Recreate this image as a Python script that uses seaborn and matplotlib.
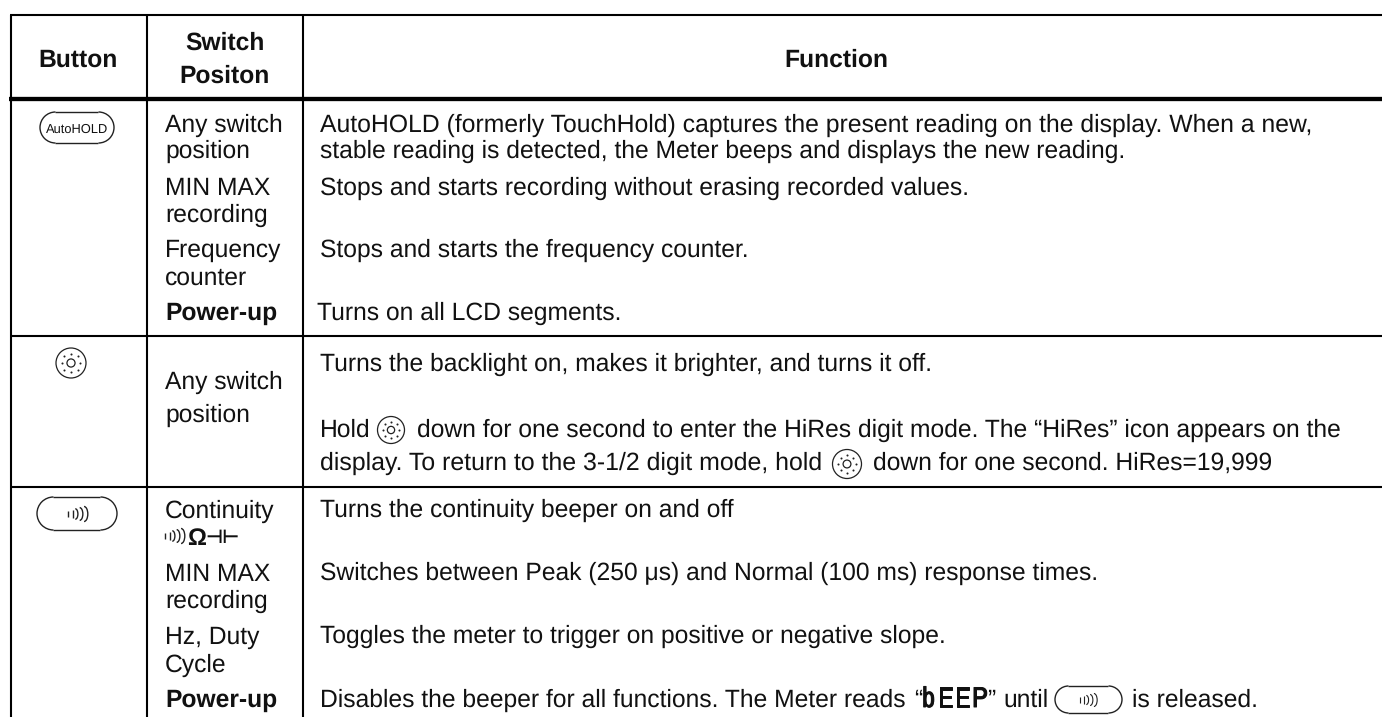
import matplotlib
matplotlib.use("Agg")
import matplotlib.pyplot as plt
import matplotlib.patheffects as pe
import seaborn as sns
from matplotlib.patches import Arc, Circle

sns.set_theme(style="white")
plt.rcParams["font.family"] = ["Liberation Sans", "DejaVu Sans"]
plt.rcParams["text.hinting"] = "none"

# table text
headers = ["Button", "Switch", "Positon", "Function"]
switch_labels = [
    "Any switch", "position", "MIN MAX", "recording", "Frequency", "counter",
    "Any switch", "position",
    "Continuity", "MIN MAX", "recording", "Hz, Duty", "Cycle",
]
switch_base = [132, 158, 195, 222, 257, 285, 389, 422, 518, 581, 608, 644, 672]
power_base = [320, 707]

func_labels = [
    "AutoHOLD (formerly TouchHold) captures the present reading on the display. When a new,",
    "stable reading is detected, the Meter beeps and displays the new reading.",
    "Stops and starts recording without erasing recorded values.",
    "Stops and starts the frequency counter.",
    "Turns the backlight on, makes it brighter, and turns it off.",
    "Turns the continuity beeper on and off",
    "Switches between Peak (250 \u03bcs) and Normal (100 ms) response times.",
    "Toggles the meter to trigger on positive or negative slope.",
]
func_base = [132, 158, 195, 257, 371, 517, 580, 643]
beep_letters = ["b", "E", "E", "P"]
beep_x = [922, 938, 955, 972]

# rules of the table
col_x = [11, 147, 303]
row_y = [99.3, 335.7, 486.7]
top_y = 14.5
right_x = 1382

BODY = 17.7
INK = "#111111"
fig, ax = plt.subplots(figsize=(13.82, 7.17), dpi=100)
ax.set_position([0, 0, 1, 1])
ax.set_xlim(0, 1382)
ax.set_ylim(717, 0)
ax.axis("off")


def txt(x, y, s, size=None, **kw):
    kw.setdefault("color", INK)
    return ax.text(x, y, s, fontsize=size or BODY, va="baseline", **kw)


def fit(x0, x1, y, s):
    # line of text that has to end at a given x
    t = txt(x0, y, s)
    width = t.get_window_extent(fig.canvas.get_renderer()).width
    t.set_fontsize(BODY * (x1 - x0) / width)
    return t


def sun(x, y, r):
    ax.add_patch(Circle((x, y), r, fill=False, ec="#222222", lw=0.9))
    ax.add_patch(Circle((x, y), r * 0.27, fill=False, ec="#222222", lw=0.9))
    ax.scatter([x + dx * r for dx in (-.62, -.44, 0, .44, .62, .44, 0, -.44)],
               [y + dy * r for dy in (0, -.44, -.62, -.44, 0, .44, .62, .44)],
               s=2.2, color="#222222", linewidths=0)


def pill(x0, y0, x1, y1):
    h = y1 - y0
    ax.hlines([y0, y1], x0 + h / 2, x1 - h / 2, color="#222222", lw=1.0)
    ax.add_patch(Arc((x0 + h / 2, y0 + h / 2), h, h, theta1=90, theta2=270, color="#222222", lw=1.0))
    ax.add_patch(Arc((x1 - h / 2, y0 + h / 2), h, h, theta1=-90, theta2=90, color="#222222", lw=1.0))


def beeper(x, y, h, lw=1.0):
    # two ticks and three growing arcs, x is the left end
    step = h * 0.33
    for i, frac in enumerate((0.4, 0.55)):
        ax.vlines(x + i * step, y - h * frac / 2, y + h * frac / 2, color="#222222", lw=lw)
    for i, frac in enumerate((0.7, 0.85, 1.0)):
        hh = h * frac
        ax.add_patch(Arc((x + (i + 2) * step - hh * 0.25, y), hh * 0.5, hh,
                         theta1=-90, theta2=90, color="#222222", lw=lw))


# body size taken from the second line, which ends at x=1126
probe = fit(320, 1126, func_base[1], func_labels[1])
BODY = probe.get_fontsize()

# grid, the rules run off the right edge
ax.hlines(top_y, col_x[0] - 1, right_x, color="black", lw=1.5)
ax.hlines(row_y[0], col_x[0] - 2, right_x, color="black", lw=3.1)
ax.hlines(row_y[1:], col_x[0], right_x, color="black", lw=1.5)
ax.vlines(col_x, top_y, 717, color="black", lw=1.5)

# header
txt(78.5, 67, headers[0], weight="bold", ha="center")
txt(225, 50, headers[1], weight="bold", ha="center")
txt(225, 83, headers[2], weight="bold", ha="center")
txt(836, 67, headers[3], weight="bold", ha="center")

# switch column
for s, y in zip(switch_labels, switch_base):
    txt(165, y, s)
for y in power_base:
    txt(165.5, y, "Power-up", weight="bold")
beeper(165, 536, 15)
txt(187, 545, "\u03a9", size=17, weight="bold")
txt(205, 543, "\u22a3\u22a2", size=13.5, weight="bold")

# function column
fit(320, 1316, func_base[0], func_labels[0])
for s, y in zip(func_labels[2:], func_base[2:]):
    txt(320, y, s)
txt(317, 320, "Turns on all LCD segments.")

# lines with inline icons
txt(320, 437, "Hold")
sun(391, 430, 13.5)
fit(417, 1343, 437, "down for one second to enter the HiRes digit mode. The \u201cHiRes\u201d icon appears on the")
fit(320, 823, 470, "display. To return to the 3-1/2 digit mode, hold")
sun(847, 464, 14.5)
fit(873, 1272, 470, "down for one second. HiRes=19,999")

fit(320, 907, 707, "Disables the beeper for all functions. The Meter reads")
txt(914, 707, "\u201c")
for s, x in zip(beep_letters, beep_x):
    txt(x, 707, s, family=["Archivo Narrow", "Liberation Sans"], weight="bold", size=20.5,
        path_effects=[pe.withStroke(linewidth=0.7, foreground=INK)])
txt(987, 707, "\u201d")
txt(1003, 707, "until")
pill(1055, 686, 1122, 713)
beeper(1080, 700, 13, lw=0.8)
txt(1132, 707, "is released.")

# button icons
pill(40, 112, 114, 143)
txt(77, 132.5, "AutoHOLD", size=9.3, ha="center")
sun(71, 363, 15)
pill(37, 497, 117, 530)
beeper(68, 514, 15)

fig.savefig("out.png", dpi=100)
